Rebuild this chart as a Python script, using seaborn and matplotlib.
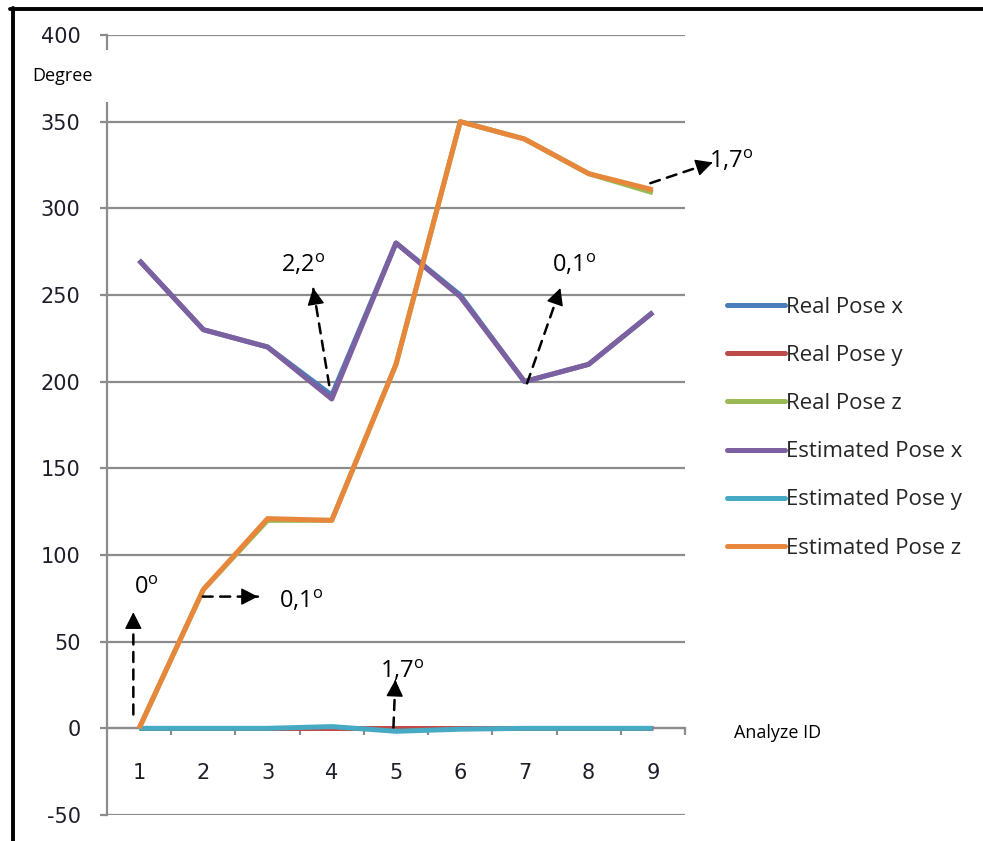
import numpy as np
import pandas as pd
import matplotlib
matplotlib.use("Agg")
import matplotlib.pyplot as plt
import seaborn as sns
from matplotlib.lines import Line2D

# ---- data -------------------------------------------------------------
analyze_id = [1, 2, 3, 4, 5, 6, 7, 8, 9]
real_pose_x = [270, 230, 220, 192.2, 280, 250, 200, 210, 240]
real_pose_y = [0, 0, 0, 0, 0, 0, 0, 0, 0]
real_pose_z = [0, 80, 120, 120, 210, 350, 340, 320, 309]
est_pose_x = [270, 230, 220, 190, 280, 249, 200.1, 210, 240]
est_pose_y = [0, 0, 0, 1, -1.7, -0.5, 0, 0, 0]
est_pose_z = [0, 80.1, 121, 120, 210, 350, 340, 320, 310.7]

series_names = ["Real Pose x", "Real Pose y", "Real Pose z",
                "Estimated Pose x", "Estimated Pose y", "Estimated Pose z"]
series_values = [real_pose_x, real_pose_y, real_pose_z,
                 est_pose_x, est_pose_y, est_pose_z]
series_colors = ["#4A7EBB", "#BE4B48", "#98B954",
                 "#7D60A0", "#46AAC5", "#E8873C"]

y_ticks = [-50, 0, 50, 100, 150, 200, 250, 300, 350, 400]

# error annotations: (label, arrow start (x, y), arrow tip (x, y), text pos)
error_notes = [
    ("0", (0.91, 8), (0.91, 67), (1.12, 81)),
    ("0,1", (1.99, 76), (2.85, 76), (3.52, 73)),
    ("2,2", (3.96, 198), (3.71, 254), (3.55, 267)),
    ("0,1", (7.04, 199), (7.56, 254), (7.78, 267)),
    ("1,7", (8.96, 314.5), (9.93, 326.5), (10.22, 327)),
    ("1,7", (4.96, 0.5), (4.99, 28), (5.1, 33)),
]

# ---- styling ----------------------------------------------------------
sns.set_theme(style="white")
plt.rcParams["font.family"] = ["Open Sans", "DejaVu Sans"]
plt.rcParams["mathtext.fontset"] = "custom"
plt.rcParams["mathtext.rm"] = "Open Sans"
plt.rcParams["mathtext.it"] = "Open Sans"

grid_color = "#8C8C8C"
tick_text_color = "#1E1E2A"
line_width = 3.6

df = pd.DataFrame({
    "Analyze ID": np.tile(analyze_id, len(series_names)),
    "Degree": np.concatenate([np.asarray(v, dtype=float) for v in series_values]),
    "Series": np.repeat(series_names, len(analyze_id)),
})

fig = plt.figure(figsize=(9.83, 8.41), dpi=100)
ax = fig.add_axes([107 / 983, 26 / 841, 578 / 983, 780 / 841])

sns.lineplot(data=df, x="Analyze ID", y="Degree", hue="Series",
             hue_order=series_names, palette=series_colors,
             linewidth=line_width, ax=ax, legend=False)
for ln in ax.get_lines():
    ln.set_solid_joinstyle("round")
    ln.set_solid_capstyle("butt")
    ln.set_zorder(3)

ax.set_xlim(0.5, 9.5)
ax.set_ylim(-50, 400)
ax.set_xlabel("")
ax.set_ylabel("")

# horizontal gridlines
ax.set_yticks(y_ticks)
ax.set_yticklabels([str(v) for v in y_ticks], family="DejaVu Sans",
                   fontsize=15, color=tick_text_color)
ax.yaxis.grid(True, color=grid_color, linewidth=1.6)
ax.xaxis.grid(False)
ax.set_axisbelow(True)
ax.tick_params(axis="y", which="major", left=True, length=5, width=1.6,
               color=grid_color, pad=14, direction="out")

# category axis crossing at zero
ax.spines["bottom"].set_position(("data", 0))
ax.spines["bottom"].set_color(grid_color)
ax.spines["bottom"].set_linewidth(1.6)
ax.spines["left"].set_color(grid_color)
ax.spines["left"].set_linewidth(1.6)
ax.spines["top"].set_visible(False)
ax.spines["right"].set_visible(False)

ax.set_xticks(analyze_id)
ax.set_xticklabels([str(v) for v in analyze_id], family="DejaVu Sans",
                   fontsize=15, color=tick_text_color)
ax.set_xticks([i + 0.5 for i in analyze_id], minor=True)
ax.tick_params(axis="x", which="major", bottom=True, length=0, pad=25)
ax.tick_params(axis="x", which="minor", bottom=True, length=5, width=1.6,
               color=grid_color, direction="out")

# error annotations: dashed shaft plus a solid filled head
for label, start, tip, tpos in error_notes:
    ax.annotate("", xy=tip, xytext=start,
                arrowprops=dict(arrowstyle="-", color="black", lw=1.8,
                                linestyle=(0, (4, 3)),
                                shrinkA=0, shrinkB=0),
                annotation_clip=False, zorder=5)
    near = (tip[0] - 0.03 * (tip[0] - start[0]),
            tip[1] - 0.03 * (tip[1] - start[1]))
    ax.annotate("", xy=tip, xytext=near,
                arrowprops=dict(arrowstyle="-|>,head_length=0.55,head_width=0.28",
                                color="black", lw=1.0, mutation_scale=19,
                                shrinkA=0, shrinkB=0),
                annotation_clip=False, zorder=5)
    ax.text(tpos[0], tpos[1], label + r"$^{\mathrm{o}}$", ha="center",
            va="center", fontsize=17, color="black", clip_on=False, zorder=6)

# axis captions
fig.text(63 / 983, 1 - 76 / 841, "Degree", ha="center", va="center",
         fontsize=13, color="black",
         bbox=dict(facecolor="white", edgecolor="none", pad=12))
fig.text(778 / 983, 1 - 733 / 841, "Analyze ID", ha="center", va="center",
         fontsize=13, color="black")

# legend
handles = [Line2D([], [], color=c, lw=line_width) for c in series_colors]
fig.legend(handles, series_names, loc="upper left",
           bbox_to_anchor=(727 / 983, 1 - 297 / 841),
           frameon=False, fontsize=16, handlelength=2.6, handletextpad=0.05,
           labelspacing=1.22, borderpad=0, borderaxespad=0)

# outer frame (top and left)
fig.add_artist(Line2D([10 / 983, 1], [1 - 8.8 / 841, 1 - 8.8 / 841],
                      transform=fig.transFigure, color="black", lw=2.8))
fig.add_artist(Line2D([12.5 / 983, 12.5 / 983], [0, 1 - 7.5 / 841],
                      transform=fig.transFigure, color="black", lw=2.8))

fig.savefig("out.png", dpi=100)
